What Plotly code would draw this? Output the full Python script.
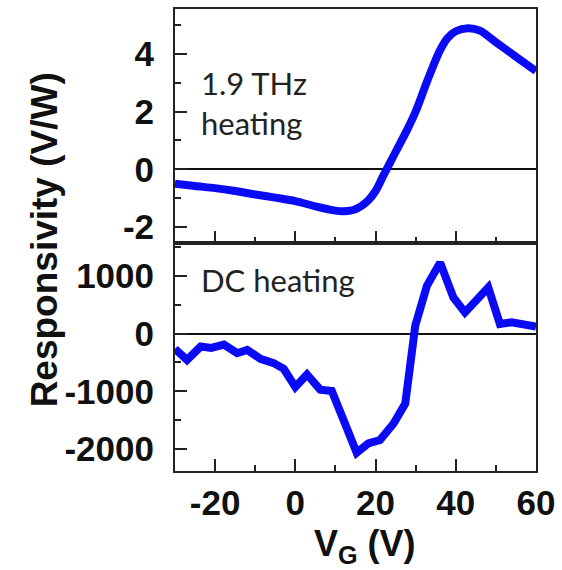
import plotly.graph_objects as go
from plotly.subplots import make_subplots

# Upper panel: 1.9 THz heating (V/W)
thz_vg = [-30, -25, -20, -15, -10, -5, 0, 5, 10, 12, 15, 18, 20, 22, 25, 28, 30, 33, 36, 38, 40, 43, 46, 50, 55, 60]
thz_resp = [-0.5, -0.58, -0.65, -0.75, -0.87, -0.98, -1.1, -1.28, -1.43, -1.45, -1.38, -1.1, -0.75, -0.2, 0.6, 1.4, 2.0, 3.1, 4.1, 4.55, 4.78, 4.88, 4.8, 4.4, 3.9, 3.4]

# Lower panel: DC heating (V/W)
dc_vg = [-30, -27, -23.6, -21, -17.8, -14.5, -12, -8.7, -5.4, -2.9, 0, 2.9, 6.2, 9.1, 15.3, 18.2, 21.1, 24.5, 27.4, 29.9, 32.8, 36.1, 39.4, 42.3, 48.1, 51.0, 53.9, 60]
dc_resp = [-264, -455, -224, -247, -190, -339, -281, -437, -511, -609, -925, -707, -971, -994, -2063, -1902, -1845, -1557, -1213, 138, 828, 1230, 626, 368, 799, 167, 195, 121]

x_ticks = [-20, 0, 20, 40, 60]
upper_ticks = [-2, 0, 2, 4]
lower_ticks = [-2000, -1000, 0, 1000]

W, H = 562, 570
L, R, T, B = 175, 25, 7, 99
pw, ph = W - L - R, H - T - B

def px(xp):
    return (xp - L) / pw

def py(yp):
    return (H - B - yp) / ph

def labels(vals):
    return [str(v) for v in vals]

fig = make_subplots(rows=2, cols=1, shared_xaxes=True, vertical_spacing=0,
                    row_heights=[235, 229])

blue = "rgb(10,10,245)"
fig.add_trace(go.Scatter(x=thz_vg, y=thz_resp, mode="lines",
                         line=dict(color=blue, width=8, shape="spline", smoothing=0.8),
                         showlegend=False), row=1, col=1)
fig.add_trace(go.Scatter(x=dc_vg, y=dc_resp, mode="lines",
                         line=dict(color=blue, width=8),
                         showlegend=False), row=2, col=1)

tick_font = dict(family="Liberation Sans, Arial, sans-serif", size=35, color="#111", weight="bold")
axis_common = dict(showline=True, mirror=True, linecolor="#222", linewidth=2,
                   ticks="inside", ticklen=12, tickwidth=2, tickcolor="#222",
                   showgrid=False, tickfont=tick_font)

fig.update_xaxes(range=[-30, 60], tickvals=x_ticks, ticktext=labels(x_ticks), zeroline=False,
                 minor=dict(dtick=10, tick0=0, ticks="inside", ticklen=6, tickwidth=2, tickcolor="#222"),
                 **axis_common)
fig.update_xaxes(showticklabels=False, row=1, col=1)
fig.update_xaxes(ticklabelstandoff=0, row=2, col=1)

fig.update_yaxes(range=[-2.55, 5.55], tickvals=upper_ticks, ticktext=labels(upper_ticks), zeroline=True,
                 zerolinecolor="#111", zerolinewidth=2, ticklabelstandoff=12,
                 minor=dict(dtick=1, tick0=0, ticks="inside", ticklen=6, tickwidth=2, tickcolor="#222"),
                 row=1, col=1, **axis_common)
fig.update_yaxes(range=[-2380, 1570], tickvals=lower_ticks, ticktext=labels(lower_ticks), zeroline=True,
                 zerolinecolor="#111", zerolinewidth=2, ticklabelstandoff=12,
                 minor=dict(dtick=500, tick0=0, ticks="inside", ticklen=6, tickwidth=2, tickcolor="#222"),
                 row=2, col=1, **axis_common)

text_font = dict(family="Lato, Open Sans, sans-serif", size=31, color="#222")
title_font = dict(family="Liberation Sans, Arial, sans-serif", size=37, color="#111", weight="bold")

fig.update_layout(
    width=W, height=H,
    margin=dict(l=L, r=R, t=T, b=B),
    paper_bgcolor="white", plot_bgcolor="white",
    annotations=[
        dict(text="1.9 THz<br>heating", x=px(199), y=py(60), xref="paper", yref="paper",
             xanchor="left", yanchor="top", showarrow=False, align="left", font=text_font),
        dict(text="DC heating", x=px(199), y=py(258), xref="paper", yref="paper",
             xanchor="left", yanchor="top", showarrow=False, align="left", font=text_font),
        dict(text="Responsivity (V/W)", x=px(44), y=py(239), xref="paper", yref="paper",
             xanchor="center", yanchor="middle", textangle=-90, showarrow=False, font=title_font),
        dict(text="V<sub>G</sub> (V)", x=px(366), y=py(521), xref="paper", yref="paper",
             xanchor="center", yanchor="top", showarrow=False,
             font=dict(family="Liberation Sans, Arial, sans-serif", size=36, color="#111", weight="bold")),
    ],
)

fig.write_html("out.html")
